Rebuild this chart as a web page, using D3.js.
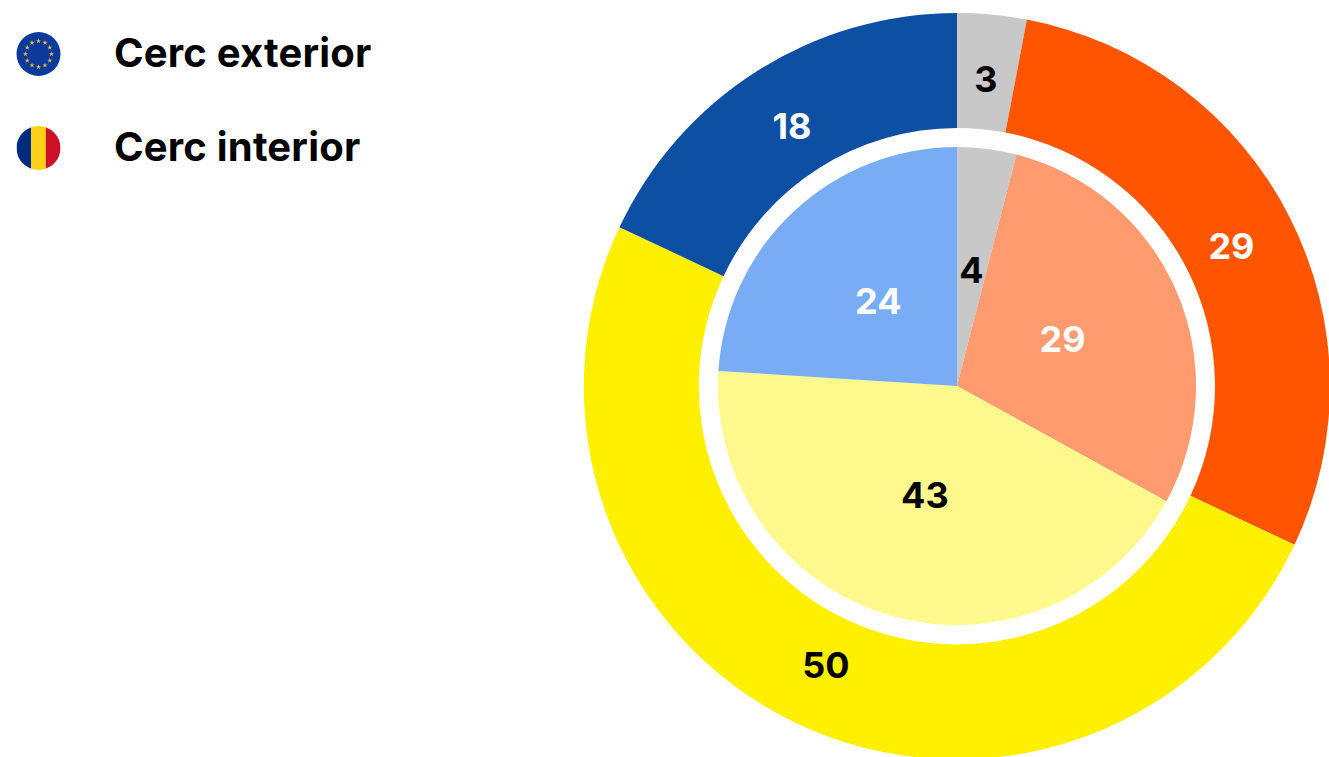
<!DOCTYPE html>
<html>
<head>
<meta charset="utf-8">
<script src="https://cdnjs.cloudflare.com/ajax/libs/d3/7.8.5/d3.min.js"></script>
<style>
    html, body { margin: 0; padding: 0; background: #fff; overflow: hidden; }
    text { font-family: "Inter", sans-serif; font-weight: 700; }
</style>
</head>
<body>
<div class="chart"></div>
<script>
var outerValues = [3, 29, 50, 18];
var innerValues = [4, 29, 43, 24];
var outerColors = ["#c8c8c8", "#ff5500", "#fff000", "#0d4fa3"];
var innerColors = ["#c8c8c8", "#ff9b6e", "#fff88c", "#78adf5"];
var outerLabelColors = ["#000", "#fff", "#000", "#fff"];
var innerLabelColors = ["#000", "#fff", "#000", "#fff"];
var legendNames = ["Cerc exterior", "Cerc interior"];
var euStars = d3.range(12);
var roStripes = ["#002b7f", "#fcd116", "#ce1126"];

var width = 1329,
    height = 757,
    cx = 957,
    cy = 386;

var svg = d3.select(".chart").append("svg")
    .attr("width", width)
    .attr("height", height)
    .style("display", "block");

var pie = d3.pie().sort(null);

var drawRing = function(values, colors, labelColors, inner, outer, labelR, dy, name) {
    var arc = d3.arc().innerRadius(inner).outerRadius(outer);
    var labelArc = d3.arc().innerRadius(labelR).outerRadius(labelR);
    var g = svg.append("g")
        .attr("class", name)
        .attr("transform", "translate(" + cx + "," + cy + ")");

    g.selectAll("path")
        .data(pie(values))
        .enter().append("path")
        .attr("d", arc)
        .style("fill", function(d, i) { return colors[i]; });

    g.selectAll("text")
        .data(pie(values))
        .enter().append("text")
        .attr("transform", function(d) { return "translate(" + labelArc.centroid(d) + ")"; })
        .attr("text-anchor", "middle")
        .attr("dy", dy)
        .style("font-size", "36px")
        .style("fill", function(d, i) { return labelColors[i]; })
        .text(function(d) { return d.data; });
};

drawRing(outerValues, outerColors, outerLabelColors, 258, 373, 308, "0.36em", "outer");
drawRing(innerValues, innerColors, innerLabelColors, 0, 239, 115, "0.32em", "inner");

// Legend
var legendY = d3.scalePoint().domain(legendNames).range([54, 148]);

svg.selectAll(".legendText")
    .data(legendNames)
    .enter().append("text")
    .attr("class", "legendText")
    .attr("x", 114)
    .attr("y", function(d) { return legendY(d); })
    .attr("dy", "0.33em")
    .style("font-size", "40px")
    .style("letter-spacing", "0.2px")
    .style("fill", "#000")
    .text(function(d) { return d; });

var flagR = 22;

// EU flag
var eu = svg.append("g")
    .attr("transform", "translate(38.5," + legendY(legendNames[0]) + ")");
eu.append("circle").attr("r", flagR).style("fill", "#0a3a9c");
var star = d3.symbol().type(d3.symbolStar).size(9);
var starAngle = d3.scaleLinear().domain([0, 12]).range([0, 2 * Math.PI]);
eu.selectAll("path")
    .data(euStars)
    .enter().append("path")
    .attr("d", star)
    .attr("transform", function(d) {
        return "translate(" + d3.pointRadial(starAngle(d), 13) + ")";
    })
    .style("fill", "#e2b93b");

// Romanian flag
var clip = svg.append("clipPath").attr("id", "roClip");
clip.append("circle").attr("r", flagR);
var ro = svg.append("g")
    .attr("transform", "translate(38.5," + legendY(legendNames[1]) + ")")
    .attr("clip-path", "url(#roClip)");
var stripeX = d3.scaleBand().domain(roStripes).range([-flagR, flagR]);
ro.selectAll("rect")
    .data(roStripes)
    .enter().append("rect")
    .attr("x", function(d) { return stripeX(d); })
    .attr("y", -flagR)
    .attr("width", stripeX.bandwidth())
    .attr("height", flagR * 2)
    .style("fill", function(d) { return d; });
</script>
</body>
</html>
